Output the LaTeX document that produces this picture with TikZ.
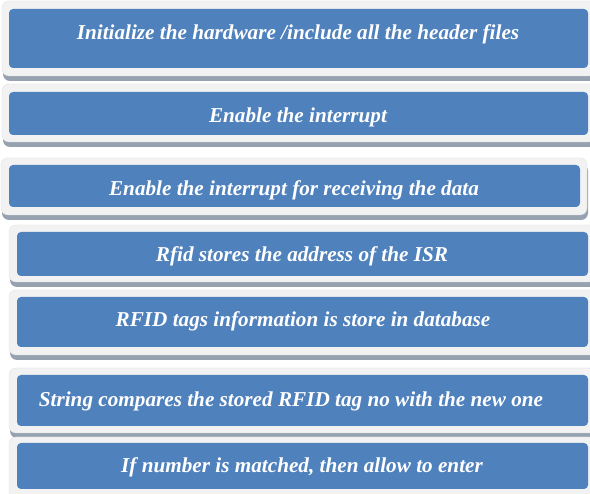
\documentclass[tikz,border=0pt]{standalone}
\usepackage{fontspec}
\setmainfont{Liberation Serif}
\usetikzlibrary{calc}
\definecolor{stepblue}{HTML}{4F81BD}
\definecolor{framegrey}{HTML}{F2F2F2}
\definecolor{shadowgrey}{HTML}{97A2B1}
\tikzset{
  shadowbox/.style={fill=shadowgrey, rounded corners=7pt},
  framebox/.style={fill=framegrey, draw=white!88!black, line width=0.3pt, rounded corners=7pt},
  stepbox/.style={fill=stepblue, rounded corners=4pt},
  steptext/.style={anchor=base, text=white, font=\fontsize{21.2}{24}\selectfont\bfseries\itshape, inner sep=0pt}
}
\newcommand{\flowstep}[9]{%
  % #1 name, #2 ox1, #3 oy1, #4 ox2, #5 oy2, #6 ix1, #7 iy1, #8 ix2, #9 iy2
  \fill[shadowbox] (#2+1,#3+6) rectangle (#4+1,#5+5);
  \fill[framebox] (#2,#3) rectangle (#4,#5);
  \path[stepbox] (#6,#7) rectangle (#8,#9);
  \coordinate (#1) at ($(#6,#7)!0.5!(#8,#9)$);
}
\begin{document}
\begin{tikzpicture}[x=1pt,y=-1pt]
\useasboundingbox (0,0) rectangle (590,494);
\fill[white] (0,0) rectangle (590,494);

\flowstep{b1}{2}{1}{596}{76}{9}{9}{588}{68}
\node[steptext] (t1) at (298,40) {Initialize the hardware /include all the header files};

\flowstep{b2}{2}{84}{596}{142}{9}{92}{588}{135}
\node[steptext] (t2) at (298,123) {Enable the interrupt};

\flowstep{b3}{1}{158}{587}{215}{9}{165}{580}{207}
\node[steptext] (t3) at (294,196) {Enable the interrupt for receiving the data};

\flowstep{b4}{9}{225}{596}{282}{17}{232}{588}{276}
\node[steptext] (t4) at (302,262) {Rfid stores the address of the ISR};

\flowstep{b5}{9}{290}{596}{355}{17}{297}{588}{347}
\node[steptext] (t5) at (303,327) {RFID tags information is store in database};

\flowstep{b6}{9}{368}{596}{433}{17}{375}{588}{426}
\node[steptext] (t6) at (291,407) {String compares the stored RFID tag no with the new one};

\flowstep{b7}{9}{437}{596}{500}{17}{443}{588}{489}
\node[steptext] (t7) at (302,473) {If number is matched, then allow to enter};
\end{tikzpicture}
\end{document}
